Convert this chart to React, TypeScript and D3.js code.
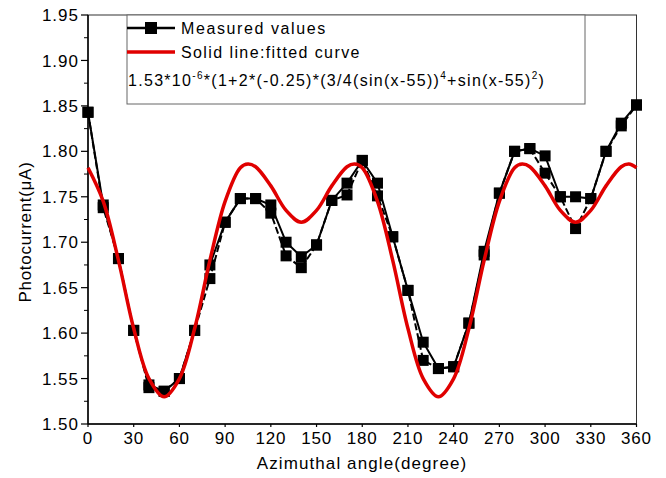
import * as d3 from 'd3';

const angles = [0,10,20,30,40,50,60,70,80,90,100,110,120,130,140,150,160,170,180,190,200,210,220,230,240,250,260,270,280,290,300,310,320,330,340,350,360];
const measuredA = [1.843,1.741,1.682,1.603,1.543,1.536,1.550,1.603,1.675,1.722,1.748,1.748,1.741,1.700,1.684,1.697,1.746,1.765,1.790,1.765,1.706,1.647,1.590,1.561,1.563,1.611,1.690,1.754,1.800,1.803,1.795,1.750,1.750,1.748,1.800,1.831,1.851];
const measuredB = [1.843,1.738,1.682,1.603,1.540,1.536,1.550,1.603,1.660,1.722,1.748,1.748,1.732,1.685,1.672,1.697,1.746,1.752,1.790,1.751,1.706,1.647,1.570,1.561,1.563,1.611,1.686,1.754,1.800,1.803,1.776,1.750,1.715,1.748,1.800,1.828,1.851];

const fitAngles = [0,10,20,30,40,50,60,70,80,90,100,105,110,120,130,140,150,160,170,175,180,190,200,210,220,230,240,250,260,270,280,285,290,300,310,320,330,340,350,355,360];
const fitValues = [1.782,1.745,1.680,1.605,1.550,1.530,1.550,1.605,1.680,1.745,1.782,1.786,1.783,1.762,1.735,1.722,1.735,1.762,1.783,1.786,1.782,1.745,1.680,1.605,1.550,1.530,1.550,1.605,1.680,1.745,1.782,1.786,1.783,1.762,1.735,1.722,1.735,1.762,1.783,1.786,1.782];

const xTicks = [0,30,60,90,120,150,180,210,240,270,300,330,360];
const yTicks = [1.50,1.55,1.60,1.65,1.70,1.75,1.80,1.85,1.90,1.95];

const W = 666, H = 478;
const font = 'Liberation Sans, Arial, sans-serif';

export default function App() {
  const x = d3.scaleLinear().domain([0, 360]).range([88, 636.5]);
  const y = d3.scaleLinear().domain([1.5, 1.95]).range([424, 15]);
  const [x0, x1] = x.range();
  const [yb, yt] = y.range();

  const line = d3.line<number>().x((_, i) => x(angles[i])).y(d => y(d));
  const fitLine = d3.line<number>().x((_, i) => x(fitAngles[i])).y(d => y(d)).curve(d3.curveCatmullRom);
  const minorY = d3.range(1.525, 1.95, 0.05);
  const sq = 11;

  return (
    <svg width={W} height={H} style={{ position: 'absolute', left: 0, top: 0, background: '#fff' }} fontFamily={font}>
      {/* frame */}
      <rect x={x0} y={yt} width={x1 - x0} height={yb - yt} fill="none" stroke="#333" strokeWidth={1} />
      <line x1={x0} x2={x0} y1={yt} y2={yb} stroke="#000" strokeWidth={1.5} />
      <line x1={x0} x2={x1} y1={yb} y2={yb} stroke="#000" strokeWidth={1.5} />

      {yTicks.map(t => (
        <g key={t}>
          <line x1={x0 - 7} x2={x0} y1={y(t)} y2={y(t)} stroke="#000" strokeWidth={1.2} />
          <text x={x0 - 9} y={y(t)} dy="0.36em" textAnchor="end" fontSize={17} letterSpacing={1}>{t.toFixed(2)}</text>
        </g>
      ))}
      {minorY.map(t => (
        <line key={t} x1={x0 - 4} x2={x0} y1={y(t)} y2={y(t)} stroke="#000" strokeWidth={1} />
      ))}
      {xTicks.map(t => (
        <g key={t}>
          <line x1={x(t)} x2={x(t)} y1={yb} y2={yb + 3} stroke="#000" strokeWidth={1.2} />
          <text x={x(t)} y={yb + 20} textAnchor="middle" fontSize={17} letterSpacing={0.8}>{t}</text>
        </g>
      ))}

      <text x={362} y={469} textAnchor="middle" fontSize={17} letterSpacing={1.1}>Azimuthal angle(degree)</text>
      <text transform="translate(31,232) rotate(-90)" textAnchor="middle" fontSize={17} letterSpacing={0.7}>Photocurrent(μA)</text>

      {/* measured */}
      <path d={line(measuredB) ?? ''} fill="none" stroke="#000" strokeWidth={2} strokeDasharray="7,3" />
      <path d={line(measuredA) ?? ''} fill="none" stroke="#000" strokeWidth={2} />
      {measuredB.map((v, i) => (
        <rect key={'b' + i} x={x(angles[i]) - sq / 2} y={y(v) - sq / 2} width={sq} height={sq} fill="#000" />
      ))}
      {measuredA.map((v, i) => (
        <rect key={'a' + i} x={x(angles[i]) - sq / 2} y={y(v) - sq / 2} width={sq} height={sq} fill="#000" />
      ))}

      {/* fitted */}
      <path d={fitLine(fitValues) ?? ''} fill="none" stroke="#e00000" strokeWidth={3.5} />

      {/* legend */}
      <rect x={127} y={yt} width={458} height={89} fill="#fff" stroke="#666" strokeWidth={1} />
      <line x1={127} x2={175} y1={28} y2={28} stroke="#000" strokeWidth={2.5} />
      <rect x={151 - 6} y={28 - 6} width={12} height={12} fill="#000" />
      <text x={181} y={34} fontSize={16} letterSpacing={1.6}>Measured values</text>
      <line x1={127} x2={175} y1={52} y2={52} stroke="#e00000" strokeWidth={3.5} />
      <text x={181} y={58} fontSize={16} letterSpacing={1.4}>Solid line:fitted curve</text>
      <text x={128} y={86} fontSize={16} letterSpacing={1.3}>
        1.53*10<tspan dy={-7} fontSize={10}>-6</tspan><tspan dy={7}>*(1+2*(-0.25)*(3/4(sin(x-55))</tspan><tspan dy={-7} fontSize={10}>4</tspan><tspan dy={7}>+sin(x-55)</tspan><tspan dy={-7} fontSize={10}>2</tspan><tspan dy={7}>)</tspan>
      </text>
    </svg>
  );
}
